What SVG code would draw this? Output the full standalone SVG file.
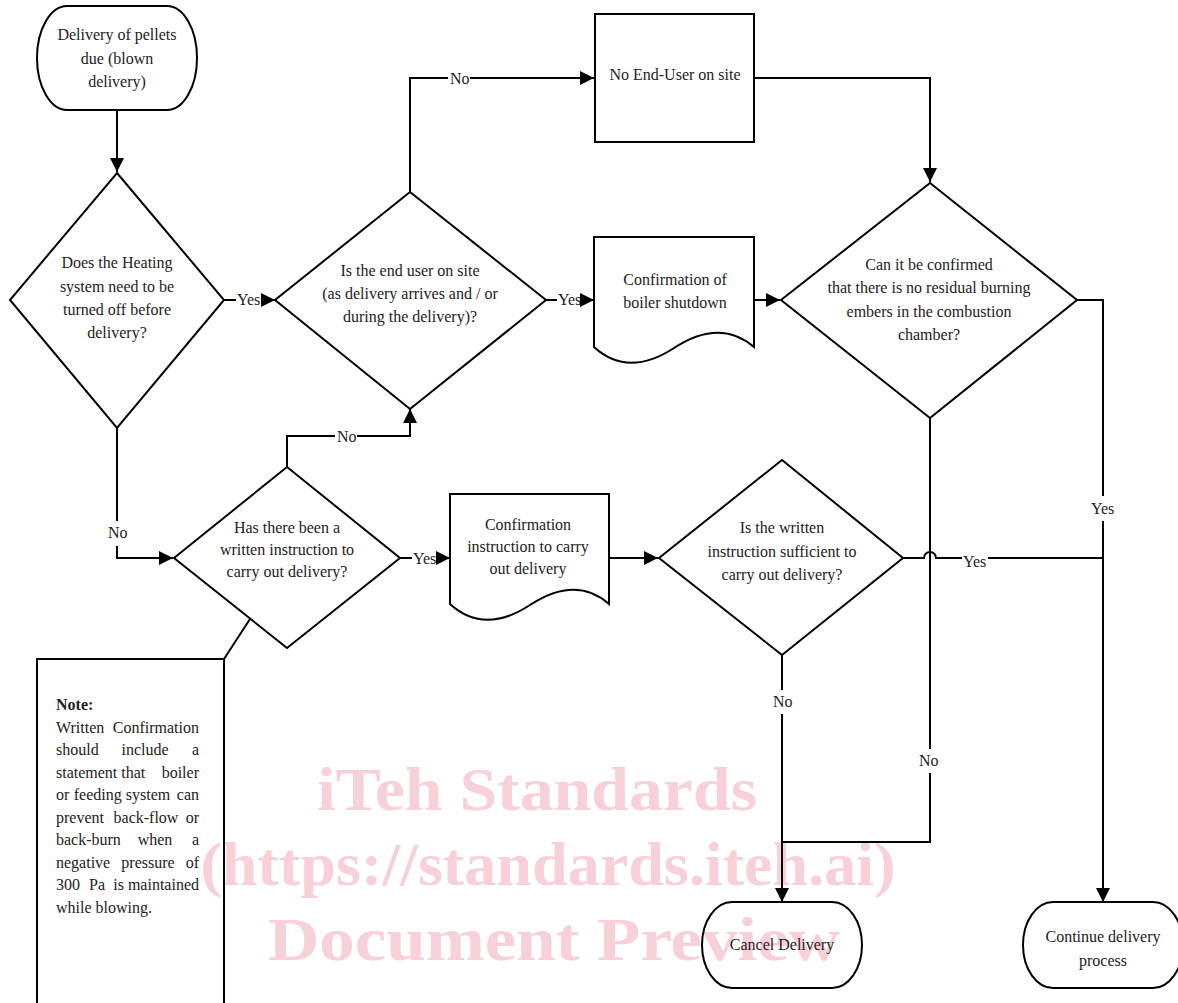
<svg xmlns="http://www.w3.org/2000/svg" width="1178" height="1003" viewBox="0 0 1178 1003">
<defs>
<marker id="ah" markerWidth="16" markerHeight="16" refX="14" refY="7" orient="auto" markerUnits="userSpaceOnUse">
<path d="M0,0 L14,7 L0,14 Z" fill="#000"/>
</marker>
<style>
.s{fill:none;stroke:#000;stroke-width:2;stroke-linejoin:miter}
.c{fill:none;stroke:#000;stroke-width:2}
.t{font-family:"Liberation Serif","Times New Roman",serif;font-size:16px;fill:#222;text-anchor:middle}
.n{font-family:"Liberation Serif","Times New Roman",serif;font-size:16px;fill:#222}
.e{font-family:"Liberation Serif","Times New Roman",serif;font-size:16px;fill:#222;text-anchor:end}
.w{font-family:"Liberation Serif","Times New Roman",serif;font-weight:bold;font-size:62px;fill:#f8d0d8;text-anchor:middle}
</style>
</defs>
<rect width="1178" height="1003" fill="#fff"/>
<g id="watermark">
<text class="w" x="537" y="810" textLength="440" lengthAdjust="spacingAndGlyphs">iTeh Standards</text>
<text class="w" x="548" y="885" textLength="695" lengthAdjust="spacingAndGlyphs">(https://standards.iteh.ai)</text>
<text class="w" x="554" y="960" textLength="572" lengthAdjust="spacingAndGlyphs">Document Preview</text>
</g>
<g id="connectors">
<path class="c" d="M117,110 V172" marker-end="url(#ah)"/>
<path class="c" d="M224,300 H236"/>
<text class="n" x="237" y="305">Yes</text>
<path class="c" d="M261,300 H275" marker-end="url(#ah)"/>
<path class="c" d="M546,300 H557"/>
<text class="n" x="558" y="305">Yes</text>
<path class="c" d="M582,300 H594" marker-end="url(#ah)"/>
<path class="c" d="M754,300 H780" marker-end="url(#ah)"/>
<path class="c" d="M410,192 V78 H448"/>
<text class="n" x="450" y="84">No</text>
<path class="c" d="M470,78 H594" marker-end="url(#ah)"/>
<path class="c" d="M754,78 H930 V182" marker-end="url(#ah)"/>
<path class="c" d="M117,428 V521"/>
<text class="n" x="108" y="538">No</text>
<path class="c" d="M117,546 V558 H173" marker-end="url(#ah)"/>
<path class="c" d="M287,467 V436 H335"/>
<text class="n" x="337" y="442">No</text>
<path class="c" d="M357,436 H410 V409" marker-end="url(#ah)"/>
<path class="c" d="M400,558 H412"/>
<text class="n" x="413" y="564">Yes</text>
<path class="c" d="M438,558 H450" marker-end="url(#ah)"/>
<path class="c" d="M609,558 H658" marker-end="url(#ah)"/>
<path class="c" d="M903,558 H924 A6,6 0 0 1 936,558 H962"/>
<text class="n" x="963" y="567">Yes</text>
<path class="c" d="M988,558 H1103"/>
<path class="c" d="M1077,300 H1103 V496"/>
<text class="n" x="1091" y="514">Yes</text>
<path class="c" d="M1103,521 V902" marker-end="url(#ah)"/>
<path class="c" d="M782,655 V690"/>
<text class="n" x="773" y="707">No</text>
<path class="c" d="M782,714 V902" marker-end="url(#ah)"/>
<path class="c" d="M930,418 V749"/>
<text class="n" x="919" y="766">No</text>
<path class="c" d="M930,773 V842 H782"/>
<path class="c" d="M224,659 L250,619"/>
</g>
<g id="start">
<rect class="s" x="37" y="6" width="160" height="104" rx="30" ry="52"/>
<text class="t" x="117" y="40">Delivery of pellets</text>
<text class="t" x="117" y="64">due (blown</text>
<text class="t" x="117" y="87">delivery)</text>
</g>
<g id="d1">
<path class="s" d="M117,173 L224,300 L117,428 L10,300 Z"/>
<text class="t" x="117" y="268">Does the Heating</text>
<text class="t" x="117" y="292">system need to be</text>
<text class="t" x="117" y="315">turned off before</text>
<text class="t" x="117" y="338">delivery?</text>
</g>
<g id="d2">
<path class="s" d="M410,192 L546,300 L410,409 L275,300 Z"/>
<text class="t" x="410" y="276">Is the end user on site</text>
<text class="t" x="410" y="299">(as delivery arrives and / or</text>
<text class="t" x="410" y="322">during the delivery)?</text>
</g>
<g id="noenduser">
<rect class="s" x="595" y="14" width="159" height="128"/>
<text class="t" x="675" y="80">No End-User on site</text>
</g>
<g id="doc1">
<path class="s" d="M594,237 H754 V347 Q720,318 674,348 Q628,378 594,347 Z"/>
<text class="t" x="675" y="285">Confirmation of</text>
<text class="t" x="675" y="308">boiler shutdown</text>
</g>
<g id="d4">
<path class="s" d="M930,183 L1077,300 L930,418 L781,300 Z"/>
<text class="t" x="929" y="270">Can it be confirmed</text>
<text class="t" x="929" y="293">that there is no residual burning</text>
<text class="t" x="929" y="317">embers in the combustion</text>
<text class="t" x="929" y="340">chamber?</text>
</g>
<g id="d3">
<path class="s" d="M287,467 L400,558 L287,648 L174,558 Z"/>
<text class="t" x="287" y="533">Has there been a</text>
<text class="t" x="287" y="555">written instruction to</text>
<text class="t" x="287" y="577">carry out delivery?</text>
</g>
<g id="doc2">
<path class="s" d="M450,494 H609 V604 Q576,575 530,605 Q484,635 450,604 Z"/>
<text class="t" x="528" y="530">Confirmation</text>
<text class="t" x="528" y="552">instruction to carry</text>
<text class="t" x="528" y="574">out delivery</text>
</g>
<g id="d5">
<path class="s" d="M782,460 L903,558 L782,655 L659,558 Z"/>
<text class="t" x="782" y="533">Is the written</text>
<text class="t" x="782" y="557">instruction sufficient to</text>
<text class="t" x="782" y="580">carry out delivery?</text>
</g>
<g id="cancel">
<rect class="s" x="702" y="902" width="160" height="86" rx="30" ry="43"/>
<text class="t" x="782" y="950">Cancel Delivery</text>
</g>
<g id="continue">
<rect class="s" x="1023" y="902" width="160" height="86" rx="30" ry="43"/>
<text class="t" x="1103" y="942">Continue delivery</text>
<text class="t" x="1103" y="966">process</text>
</g>
<g id="note">
<path class="s" d="M37,1010 V659 H224 V1010"/>
<text class="n" x="56" y="710" font-weight="bold">Note:</text>
<text class="n" x="56" y="733">Written</text><text class="e" x="199" y="733">Confirmation</text>
<text class="n" x="56" y="755">should</text><text class="t" x="145" y="755">include</text><text class="e" x="199" y="755">a</text>
<text class="n" x="56" y="778">statement that</text><text class="e" x="199" y="778">boiler</text>
<text class="n" x="56" y="800">or</text><text class="t" x="122" y="800">feeding system</text><text class="e" x="199" y="800">can</text>
<text class="n" x="56" y="823">prevent</text><text class="t" x="146" y="823">back-flow</text><text class="e" x="199" y="823">or</text>
<text class="n" x="56" y="845">back-burn</text><text class="t" x="155" y="845">when</text><text class="e" x="199" y="845">a</text>
<text class="n" x="56" y="868">negative</text><text class="t" x="148" y="868">pressure</text><text class="e" x="199" y="868">of</text>
<text class="n" x="56" y="890">300</text><text class="t" x="97" y="890">Pa</text><text class="e" x="199" y="890">is maintained</text>
<text class="n" x="56" y="913">while blowing.</text>
</g>
</svg>
